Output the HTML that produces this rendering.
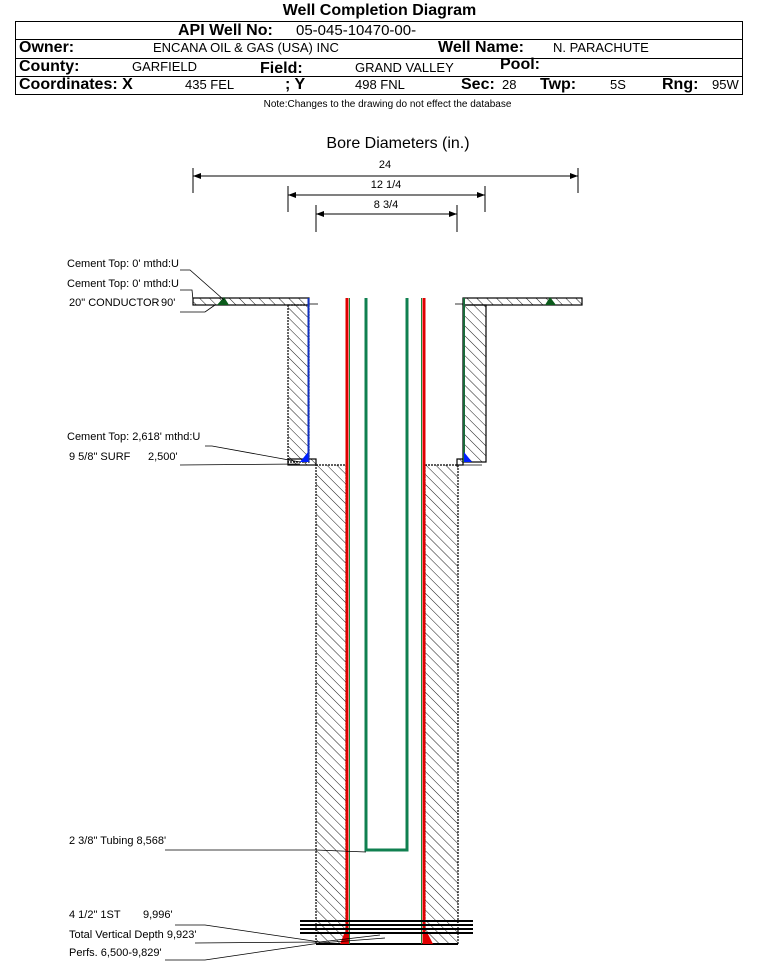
<!DOCTYPE html>
<html><head><style>
html,body{margin:0;padding:0;background:#fff;}
body{width:759px;height:962px;position:relative;overflow:hidden;font-family:"Liberation Sans",sans-serif;}
.t{position:absolute;white-space:nowrap;}
.b{font-weight:bold;font-size:16px;}
.n{font-size:13px;}
</style></head><body>
<div class="t b" style="left:0;width:759px;text-align:center;top:2px;font-size:16px;">Well Completion Diagram</div>
<div style="position:absolute;left:15px;top:21px;width:726px;height:72px;border:1px solid #000;"></div>
<div style="position:absolute;left:15px;top:39px;width:727px;border-top:1px solid #000;"></div>
<div style="position:absolute;left:15px;top:58px;width:727px;border-top:1px solid #000;"></div>
<div style="position:absolute;left:15px;top:76px;width:727px;border-top:1px solid #000;"></div>
<div class="t b" style="left:178px;top:22px;">API Well No:</div>
<div class="t" style="left:296px;top:22px;font-size:15px;">05-045-10470-00-</div>
<div class="t b" style="left:19px;top:39px;">Owner:</div>
<div class="t n" style="left:153px;top:40px;">ENCANA OIL &amp; GAS (USA) INC</div>
<div class="t b" style="left:438px;top:39px;">Well Name:</div>
<div class="t n" style="left:553px;top:40px;">N. PARACHUTE</div>
<div class="t b" style="left:19px;top:58px;">County:</div>
<div class="t n" style="left:132px;top:59px;">GARFIELD</div>
<div class="t b" style="left:260px;top:60px;">Field:</div>
<div class="t n" style="left:355px;top:60px;">GRAND VALLEY</div>
<div class="t b" style="left:500px;top:56px;">Pool:</div>
<div class="t b" style="left:19px;top:76px;">Coordinates: X</div>
<div class="t n" style="left:185px;top:77px;">435 FEL</div>
<div class="t b" style="left:285px;top:76px;">; Y</div>
<div class="t n" style="left:355px;top:77px;">498 FNL</div>
<div class="t b" style="left:461px;top:76px;">Sec:</div>
<div class="t n" style="left:502px;top:77px;">28</div>
<div class="t b" style="left:540px;top:76px;">Twp:</div>
<div class="t n" style="left:610px;top:77px;">5S</div>
<div class="t b" style="left:662px;top:76px;">Rng:</div>
<div class="t n" style="left:712px;top:77px;">95W</div>
<div class="t" style="left:0;width:775px;text-align:center;top:99px;font-size:10px;">Note:Changes to the drawing do not effect the database</div>

<svg width="759" height="962" style="position:absolute;left:0;top:0" font-family="Liberation Sans,sans-serif">
<defs>
<pattern id="h" width="7" height="7" patternUnits="userSpaceOnUse" patternTransform="rotate(-45)">
<line x1="0" y1="0" x2="0" y2="7" stroke="#000" stroke-width="0.9"/>
</pattern>
</defs>
<text x="398" y="148" font-size="16" text-anchor="middle">Bore Diameters (in.)</text>
<g stroke="#000" stroke-width="1" fill="none">
<line x1="193" y1="168" x2="193" y2="193"/><line x1="578" y1="168" x2="578" y2="193"/>
<line x1="193" y1="176" x2="578" y2="176"/>
<line x1="288" y1="186" x2="288" y2="212"/><line x1="485" y1="186" x2="485" y2="212"/>
<line x1="288" y1="195" x2="485" y2="195"/>
<line x1="316" y1="205" x2="316" y2="232"/><line x1="457" y1="205" x2="457" y2="232"/>
<line x1="316" y1="214" x2="457" y2="214"/>
</g>
<g fill="#000">
<path d="M193,176 l8,-3 v6z"/><path d="M578,176 l-8,-3 v6z"/>
<path d="M288,195 l8,-3 v6z"/><path d="M485,195 l-8,-3 v6z"/>
<path d="M316,214 l8,-3 v6z"/><path d="M457,214 l-8,-3 v6z"/>
</g>
<g font-size="11" text-anchor="middle"><text x="385" y="168">24</text><text x="386" y="188">12 1/4</text><text x="386" y="208">8 3/4</text></g>

<g stroke="#000" stroke-width="1.2">
<rect x="193" y="298" width="116" height="7" fill="url(#h)"/>
<rect x="463" y="298" width="119" height="7" fill="url(#h)"/>
<rect x="288" y="305" width="21" height="157" fill="url(#h)" stroke-dasharray="2,1"/>
<rect x="463" y="305" width="23" height="157" fill="url(#h)"/>
<rect x="288" y="459" width="28" height="6" fill="url(#h)"/>
<rect x="457" y="459" width="6" height="6" fill="url(#h)"/>
<rect x="316" y="465" width="30" height="479" fill="url(#h)" stroke-dasharray="2,1"/>
<rect x="425" y="465" width="33" height="479" fill="url(#h)" stroke-dasharray="2,1"/>
<line x1="316" y1="944" x2="458" y2="944" stroke-width="2"/>
</g>
<line x1="309" y1="304" x2="318" y2="304" stroke="#000" stroke-width="0.8"/>
<line x1="455" y1="304" x2="463" y2="304" stroke="#000" stroke-width="0.8"/>
<line x1="458" y1="465" x2="482" y2="465" stroke="#000" stroke-width="0.8"/>
<line x1="308.5" y1="298" x2="308.5" y2="462" stroke="#1030c0" stroke-width="2"/>
<line x1="464" y1="298" x2="464" y2="462" stroke="#1a6a3a" stroke-width="2"/>
<path d="M300,462 L308,452 L308,462Z" fill="#0020ff"/>
<path d="M464,452 L472,462 L464,462Z" fill="#0020ff"/>
<path d="M217,305 L224,297 L229,305Z" fill="#0a5a1a"/>
<path d="M545,305 L550,297 L556,305Z" fill="#0a5a1a"/>
<line x1="347" y1="298" x2="347" y2="944" stroke="#e00000" stroke-width="3"/>
<line x1="349.5" y1="298" x2="349.5" y2="944" stroke="#1a8a3a" stroke-width="1"/>
<line x1="424" y1="298" x2="424" y2="944" stroke="#e00000" stroke-width="3"/>
<line x1="421.5" y1="298" x2="421.5" y2="944" stroke="#1a8a3a" stroke-width="1"/>
<path d="M344,934 L349,934 L349,944 L340,944Z" fill="#e00000"/>
<path d="M423,934 L428,934 L433,944 L423,944Z" fill="#e00000"/>
<path d="M366,298 V850 H407 V298" fill="none" stroke="#108050" stroke-width="3"/>
<g stroke="#000" stroke-width="2"><line x1="300" y1="921" x2="473" y2="921"/><line x1="300" y1="925" x2="473" y2="925"/><line x1="300" y1="929" x2="473" y2="929"/><line x1="300" y1="933" x2="473" y2="933"/></g>
<g stroke="#000" stroke-width="0.8" fill="none">
<polyline points="180,270 190,270 224,300"/>
<polyline points="180,290 192,290 193,300"/>
<polyline points="180,312 205,312 215,305"/>
<polyline points="205,446 212,446 300,462"/>
<polyline points="180,465 300,464"/>
<polyline points="165,850 316,850 366,852"/>
<polyline points="175,925 205,925 320,942"/>
<polyline points="195,943 320,942 380,935"/>
<polyline points="165,960 205,960 320,943 385,938"/>
</g>
<g font-size="11">
<text x="67" y="267">Cement Top: 0' mthd:U</text>
<text x="67" y="287">Cement Top: 0' mthd:U</text>
<text x="69" y="306">20" CONDUCTOR</text><text x="161" y="306">90'</text>
<text x="67" y="440">Cement Top: 2,618' mthd:U</text>
<text x="69" y="460">9 5/8" SURF</text><text x="148" y="460">2,500'</text>
<text x="69" y="844">2 3/8" Tubing 8,568'</text>
<text x="69" y="918">4 1/2" 1ST</text><text x="143" y="918">9,996'</text>
<text x="69" y="938">Total Vertical Depth 9,923'</text>
<text x="69" y="956">Perfs. 6,500-9,829'</text>
</g>
</svg>
</body></html>
